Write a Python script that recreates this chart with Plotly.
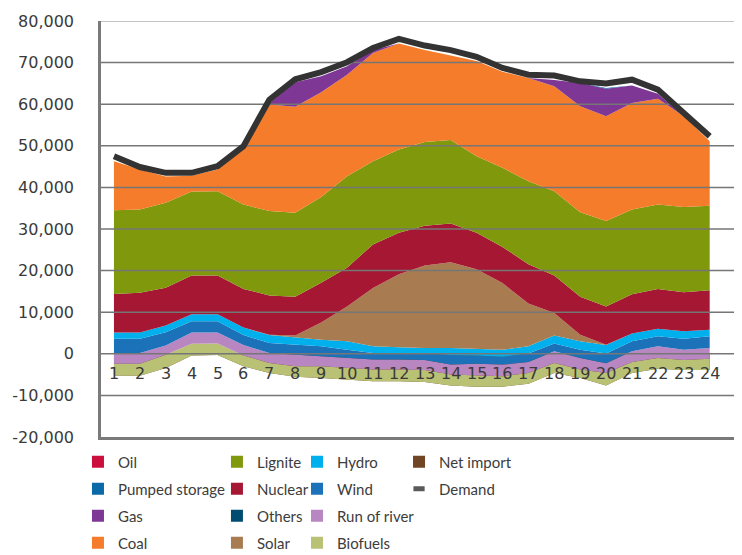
import plotly.graph_objects as go

# hourly generation mix (MW)
hours = list(range(1, 25))

net_import = [-5200, -5300, -3400, -400, -300, -3000, -4600, -5500, -5800, -6200, -6600, -6600,
              -6800, -7600, -7900, -7900, -7200, -4600, -5800, -7600, -4600, -3600, -3900, -3900]
biofuels = [2800, 2900, 3200, 2800, 2800, 2600, 2400, 2500, 2800, 2800, 2800, 2800,
            2900, 2600, 2700, 2500, 2600, 2400, 2000, 3000, 2600, 2600, 2400, 2700]
run_of_river = [2400, 2600, 2200, 2700, 2600, 2500, 2400, 2800, 2400, 2400, 2400, 2400,
                2400, 2400, 2800, 2800, 2600, 2800, 2800, 2300, 2600, 2800, 2500, 2600]
wind = [3600, 3400, 3200, 2700, 2700, 2400, 2400, 2400, 2400, 2000, 1600, 1600,
        1700, 2300, 2000, 1900, 2100, 1900, 2000, 2400, 2400, 2400, 2600, 2800]
hydro = [1500, 1500, 1600, 1700, 1700, 1800, 1900, 1700, 1600, 2000, 1600, 1400,
         1200, 1700, 1600, 1700, 1700, 1900, 2000, 2000, 1900, 1800, 1800, 1600]
solar = [0, 0, 0, 0, 0, 0, 100, 500, 4100, 8400, 14000, 17500,
         19800, 20600, 19100, 16000, 10300, 5400, 1600, 100, 0, 0, 0, 0]
others = [0, 0, 0, 0, 0, 0, 0, 0, 0, 0, 0, 0,
          0, 0, 0, 0, 0, 0, 0, 0, 0, 0, 0, 0]
nuclear = [9300, 9600, 9100, 9300, 9300, 9300, 9400, 9300, 9600, 9300, 10500, 10000,
           9600, 9300, 8800, 8700, 9400, 9000, 9100, 9200, 9400, 9600, 9400, 9500]
lignite = [20100, 20000, 20400, 20200, 20300, 20300, 20300, 20200, 20600, 22000, 20000, 20000,
           20100, 20100, 18400, 19000, 20000, 20300, 20300, 20500, 20400, 20300, 20500, 20300]
coal = [11800, 9600, 6300, 3800, 5200, 13400, 25600, 25500, 25200, 24400, 26000, 25500,
        22100, 20300, 22900, 23100, 24800, 25200, 25500, 25200, 25600, 25400, 21800, 15500]
gas = [0, 0, 0, 0, 0, 0, 300, 5900, 3800, 2000, 700, 0,
       0, 0, 0, 0, 0, 1500, 5600, 6600, 4200, 1200, 0, 0]
pumped_storage = [0, 0, 0, 0, 0, 0, 0, 0, 0, 0, 0, 0,
                  0, 0, 0, 0, 0, 0, 0, 200, 0, 0, 0, 0]
oil = [0, 0, 0, 0, 0, 0, 0, 0, 0, 0, 0, 0,
       0, 0, 0, 0, 0, 0, 0, 0, 0, 0, 0, 0]
demand = [47500, 44900, 43500, 43500, 45100, 49900, 61100, 66000, 67700, 70100, 73500, 75700,
          74100, 73000, 71400, 68700, 67100, 66900, 65500, 65000, 65900, 63500, 57900, 52300]

y_ticks = [80000, 70000, 60000, 50000, 40000, 30000, 20000, 10000, 0, -10000, -20000]
y_labels = ["80,000", "70,000", "60,000", "50,000", "40,000", "30,000", "20,000",
            "10,000", "0", "-10,000", "-20,000"]

colors = {
    "Oil": "#cc0e3d", "Pumped storage": "#0a69a6", "Gas": "#7f3796", "Coal": "#f47c2b",
    "Lignite": "#80980c", "Nuclear": "#a51733", "Others": "#004c70", "Solar": "#a87c50",
    "Hydro": "#00b0ec", "Wind": "#1c72b9", "Run of river": "#b886c0", "Biofuels": "#b9c175",
    "Net import": "#6f4526", "Demand": "#5a5a5a",
}

# bottom to top stacking order
stack = [("Net import", net_import), ("Biofuels", biofuels), ("Run of river", run_of_river),
         ("Wind", wind), ("Hydro", hydro), ("Solar", solar), ("Others", others),
         ("Nuclear", nuclear), ("Lignite", lignite), ("Coal", coal), ("Gas", gas),
         ("Pumped storage", pumped_storage), ("Oil", oil)]

x_range = [0.5, 25.17]

fig = go.Figure()

for name, vals in stack:
    fig.add_trace(go.Scatter(
        x=hours, y=vals, name=name, stackgroup="mix", mode="lines",
        line=dict(width=0, color=colors[name]), fillcolor=colors[name],
        showlegend=False, hoverinfo="skip"
    ))

# gridlines sit on top of the areas, under the demand line
gx, gy = [], []
for v in y_ticks[1:-1]:
    gx += [x_range[0], x_range[1], None]
    gy += [v, v, None]
fig.add_trace(go.Scatter(x=gx, y=gy, mode="lines", line=dict(color="#767676", width=1.5),
                         showlegend=False, hoverinfo="skip"))
fig.add_trace(go.Scatter(x=x_range, y=[y_ticks[0]] * 2, mode="lines",
                         line=dict(color="#b0b0b0", width=1.5), showlegend=False, hoverinfo="skip"))

fig.add_trace(go.Scatter(x=hours, y=demand, mode="lines", name="Demand",
                         line=dict(color="#333333", width=6), showlegend=False))

# legend in four columns
columns = [["Oil", "Pumped storage", "Gas", "Coal"],
           ["Lignite", "Nuclear", "Others", "Solar"],
           ["Hydro", "Wind", "Run of river", "Biofuels"],
           ["Net import", "Demand"]]
legend_ids = ["legend", "legend2", "legend3", "legend4"]
for lid, col in zip(legend_ids, columns):
    for name in col:
        if name == "Demand":
            marker = dict(symbol="line-ew-open", size=8, color=colors[name],
                          line=dict(width=5, color=colors[name]))
        else:
            marker = dict(symbol="square", size=12, color=colors[name], line=dict(width=0))
        fig.add_trace(go.Scatter(x=[None], y=[None], mode="markers", name=name, marker=marker,
                                 legend=lid, legendgroup=name, showlegend=True))

legend_font = dict(family="Lato", size=15, color="#3c3c3c")
legend_x = [0.0943, 0.2816, 0.3895, 0.527]
layout_legends = {}
for lid, lx in zip(legend_ids, legend_x):
    layout_legends[lid] = dict(x=lx, y=0.2115, xref="container", yref="container",
                               xanchor="left", yanchor="top",
                               orientation="v", font=legend_font, tracegroupgap=4.5,
                               bgcolor="rgba(0,0,0,0)", itemclick=False)

# the page body adds an 8px offset, so margins are shifted to compensate
tick_font = dict(family="DejaVu Sans", size=16, color="#3a3a3a")
fig.update_layout(
    width=742, height=555,
    margin=dict(l=93, r=10, t=13, b=126, autoexpand=False),
    plot_bgcolor="white", paper_bgcolor="white",
    xaxis=dict(range=x_range, showgrid=False, zeroline=False, showticklabels=False,
               showline=True, linecolor="#7a7a7a", linewidth=2.5, ticks="", automargin=False),
    yaxis=dict(range=[-20000, 80000], tickvals=y_ticks, ticktext=y_labels, showgrid=False,
               zeroline=False, showline=True, linecolor="#7a7a7a", linewidth=2.5,
               tickfont=tick_font, ticks="", ticklabelstandoff=21, automargin=False),
    annotations=[dict(x=h, y=-4700, xref="x", yref="y", text=str(h), showarrow=False,
                      font=tick_font) for h in hours],
    **layout_legends
)

fig.write_html("out.html")
